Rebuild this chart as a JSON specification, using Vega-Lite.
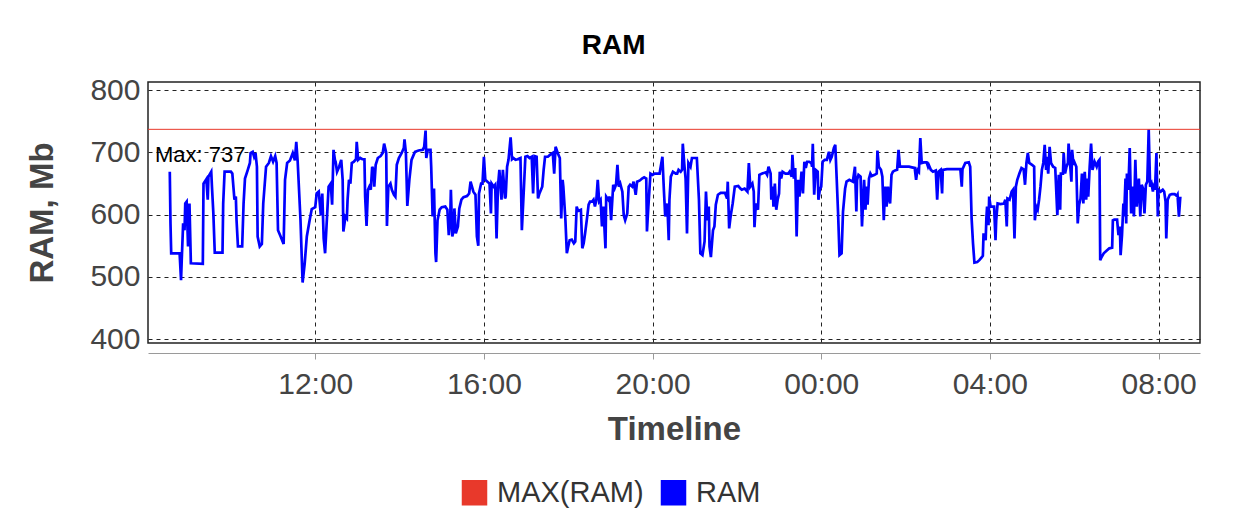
{
"$schema":"https://vega.github.io/schema/vega-lite/v6.json",
"width":1052,"height":261,
"autosize":{"type":"none"},
"padding":{"left":148,"top":82,"right":56,"bottom":185},
"title":{"text":"RAM","fontSize":28,"fontWeight":"bold","font":"Liberation Sans","color":"#000","anchor":"middle","frame":"bounds","offset":15},
"config":{"view":{"stroke":"#222","strokeWidth":1.5},"font":"Liberation Sans"},
"datasets":{"ram":[
{"t":"2024-01-01T08:33","v":669},{"t":"2024-01-01T08:34","v":586},{"t":"2024-01-01T08:35","v":538},{"t":"2024-01-01T08:47","v":538},{"t":"2024-01-01T08:49","v":495},{"t":"2024-01-01T08:50","v":527},{"t":"2024-01-01T08:52","v":586},{"t":"2024-01-01T08:54","v":575},{"t":"2024-01-01T08:55","v":618},{"t":"2024-01-01T08:57","v":621},{"t":"2024-01-01T08:59","v":549},{"t":"2024-01-01T09:01","v":618},{"t":"2024-01-01T09:03","v":522},{"t":"2024-01-01T09:20","v":521},{"t":"2024-01-01T09:21","v":650},{"t":"2024-01-01T09:25","v":657},{"t":"2024-01-01T09:27","v":624},{"t":"2024-01-01T09:28","v":661},{"t":"2024-01-01T09:32","v":669},{"t":"2024-01-01T09:33","v":645},{"t":"2024-01-01T09:35","v":602},{"t":"2024-01-01T09:37","v":539},{"t":"2024-01-01T09:48","v":539},{"t":"2024-01-01T09:49","v":618},{"t":"2024-01-01T09:51","v":669},{"t":"2024-01-01T10:00","v":669},{"t":"2024-01-01T10:02","v":666},{"t":"2024-01-01T10:05","v":624},{"t":"2024-01-01T10:07","v":629},{"t":"2024-01-01T10:08","v":591},{"t":"2024-01-01T10:10","v":549},{"t":"2024-01-01T10:16","v":549},{"t":"2024-01-01T10:18","v":618},{"t":"2024-01-01T10:20","v":658},{"t":"2024-01-01T10:24","v":672},{"t":"2024-01-01T10:27","v":683},{"t":"2024-01-01T10:28","v":699},{"t":"2024-01-01T10:31","v":701},{"t":"2024-01-01T10:33","v":693},{"t":"2024-01-01T10:35","v":699},{"t":"2024-01-01T10:37","v":677},{"t":"2024-01-01T10:38","v":565},{"t":"2024-01-01T10:41","v":549},{"t":"2024-01-01T10:44","v":553},{"t":"2024-01-01T10:46","v":618},{"t":"2024-01-01T10:50","v":677},{"t":"2024-01-01T10:54","v":683},{"t":"2024-01-01T10:57","v":694},{"t":"2024-01-01T11:00","v":685},{"t":"2024-01-01T11:03","v":694},{"t":"2024-01-01T11:05","v":683},{"t":"2024-01-01T11:07","v":575},{"t":"2024-01-01T11:10","v":567},{"t":"2024-01-01T11:15","v":553},{"t":"2024-01-01T11:17","v":656},{"t":"2024-01-01T11:20","v":683},{"t":"2024-01-01T11:24","v":687},{"t":"2024-01-01T11:28","v":699},{"t":"2024-01-01T11:31","v":687},{"t":"2024-01-01T11:33","v":717},{"t":"2024-01-01T11:35","v":685},{"t":"2024-01-01T11:39","v":591},{"t":"2024-01-01T11:42","v":491},{"t":"2024-01-01T11:45","v":522},{"t":"2024-01-01T11:48","v":565},{"t":"2024-01-01T11:52","v":591},{"t":"2024-01-01T11:55","v":609},{"t":"2024-01-01T12:00","v":612},{"t":"2024-01-01T12:02","v":634},{"t":"2024-01-01T12:05","v":637},{"t":"2024-01-01T12:08","v":599},{"t":"2024-01-01T12:10","v":634},{"t":"2024-01-01T12:12","v":562},{"t":"2024-01-01T12:14","v":538},{"t":"2024-01-01T12:17","v":602},{"t":"2024-01-01T12:19","v":645},{"t":"2024-01-01T12:22","v":650},{"t":"2024-01-01T12:24","v":616},{"t":"2024-01-01T12:26","v":704},{"t":"2024-01-01T12:28","v":688},
{"t":"2024-01-01T12:29","v":685},{"t":"2024-01-01T12:31","v":669},{"t":"2024-01-01T12:34","v":677},{"t":"2024-01-01T12:37","v":688},{"t":"2024-01-01T12:39","v":656},{"t":"2024-01-01T12:40","v":573},{"t":"2024-01-01T12:43","v":597},{"t":"2024-01-01T12:45","v":594},{"t":"2024-01-01T12:46","v":624},{"t":"2024-01-01T12:48","v":656},{"t":"2024-01-01T12:50","v":650},{"t":"2024-01-01T12:52","v":683},{"t":"2024-01-01T12:55","v":685},{"t":"2024-01-01T12:58","v":689},{"t":"2024-01-01T12:59","v":717},{"t":"2024-01-01T13:01","v":688},{"t":"2024-01-01T13:04","v":691},{"t":"2024-01-01T13:07","v":689},{"t":"2024-01-01T13:10","v":689},{"t":"2024-01-01T13:11","v":629},{"t":"2024-01-01T13:13","v":582},{"t":"2024-01-01T13:15","v":640},{"t":"2024-01-01T13:17","v":645},{"t":"2024-01-01T13:19","v":640},{"t":"2024-01-01T13:21","v":677},{"t":"2024-01-01T13:23","v":672},{"t":"2024-01-01T13:24","v":645},{"t":"2024-01-01T13:26","v":680},{"t":"2024-01-01T13:29","v":691},{"t":"2024-01-01T13:33","v":694},{"t":"2024-01-01T13:36","v":699},{"t":"2024-01-01T13:38","v":714},{"t":"2024-01-01T13:41","v":699},{"t":"2024-01-01T13:42","v":582},{"t":"2024-01-01T13:44","v":645},{"t":"2024-01-01T13:47","v":650},{"t":"2024-01-01T13:49","v":640},{"t":"2024-01-01T13:52","v":632},{"t":"2024-01-01T13:54","v":629},{"t":"2024-01-01T13:56","v":680},{"t":"2024-01-01T13:59","v":691},{"t":"2024-01-01T14:03","v":699},{"t":"2024-01-01T14:06","v":707},{"t":"2024-01-01T14:07","v":721},{"t":"2024-01-01T14:09","v":699},{"t":"2024-01-01T14:11","v":614},{"t":"2024-01-01T14:14","v":657},{"t":"2024-01-01T14:17","v":688},{"t":"2024-01-01T14:20","v":696},{"t":"2024-01-01T14:22","v":701},{"t":"2024-01-01T14:27","v":703},{"t":"2024-01-01T14:33","v":704},{"t":"2024-01-01T14:35","v":709},{"t":"2024-01-01T14:37","v":735},{"t":"2024-01-01T14:38","v":691},{"t":"2024-01-01T14:40","v":704},{"t":"2024-01-01T14:44","v":704},{"t":"2024-01-01T14:45","v":677},{"t":"2024-01-01T14:47","v":597},{"t":"2024-01-01T14:49","v":642},{"t":"2024-01-01T14:51","v":538},{"t":"2024-01-01T14:52","v":524},{"t":"2024-01-01T14:54","v":591},{"t":"2024-01-01T14:57","v":608},{"t":"2024-01-01T15:00","v":612},{"t":"2024-01-01T15:05","v":613},{"t":"2024-01-01T15:08","v":608},{"t":"2024-01-01T15:10","v":567},{"t":"2024-01-01T15:12","v":591},{"t":"2024-01-01T15:13","v":640},{"t":"2024-01-01T15:15","v":565},{"t":"2024-01-01T15:17","v":575},{"t":"2024-01-01T15:18","v":610},{"t":"2024-01-01T15:20","v":570},{"t":"2024-01-01T15:23","v":581},{"t":"2024-01-01T15:25","v":610},{"t":"2024-01-01T15:28","v":624},{"t":"2024-01-01T15:31","v":628},{"t":"2024-01-01T15:36","v":630},{"t":"2024-01-01T15:39","v":634},{"t":"2024-01-01T15:41","v":653},{"t":"2024-01-01T15:43","v":645},{"t":"2024-01-01T15:45","v":637},{"t":"2024-01-01T15:48","v":632},{"t":"2024-01-01T15:50","v":565},{"t":"2024-01-01T15:52","v":550},{"t":"2024-01-01T15:53","v":634},{"t":"2024-01-01T15:56","v":650},{"t":"2024-01-01T15:58","v":650},{"t":"2024-01-01T16:00","v":693},{"t":"2024-01-01T16:02","v":656},{"t":"2024-01-01T16:05","v":653},{"t":"2024-01-01T16:08","v":650},{"t":"2024-01-01T16:10","v":602},{"t":"2024-01-01T16:11","v":650},{"t":"2024-01-01T16:14","v":645},{"t":"2024-01-01T16:16","v":648},{"t":"2024-01-01T16:18","v":562},{"t":"2024-01-01T16:20","v":645},{"t":"2024-01-01T16:22","v":672},{"t":"2024-01-01T16:25","v":624},{"t":"2024-01-01T16:27","v":672},{"t":"2024-01-01T16:30","v":626},{"t":"2024-01-01T16:31","v":629},{"t":"2024-01-01T16:33","v":677},{"t":"2024-01-01T16:35","v":688},{"t":"2024-01-01T16:38","v":724},{"t":"2024-01-01T16:40","v":689},
{"t":"2024-01-01T16:42","v":691},{"t":"2024-01-01T16:45","v":688},{"t":"2024-01-01T16:48","v":689},{"t":"2024-01-01T16:52","v":691},{"t":"2024-01-01T16:54","v":575},{"t":"2024-01-01T16:57","v":645},{"t":"2024-01-01T16:59","v":693},{"t":"2024-01-01T17:02","v":694},{"t":"2024-01-01T17:05","v":691},{"t":"2024-01-01T17:08","v":693},{"t":"2024-01-01T17:10","v":634},{"t":"2024-01-01T17:12","v":694},{"t":"2024-01-01T17:15","v":693},{"t":"2024-01-01T17:17","v":626},{"t":"2024-01-01T17:19","v":634},{"t":"2024-01-01T17:23","v":645},{"t":"2024-01-01T17:25","v":672},{"t":"2024-01-01T17:27","v":693},{"t":"2024-01-01T17:31","v":693},{"t":"2024-01-01T17:34","v":696},{"t":"2024-01-01T17:38","v":699},{"t":"2024-01-01T17:40","v":666},{"t":"2024-01-01T17:42","v":709},{"t":"2024-01-01T17:45","v":699},{"t":"2024-01-01T17:48","v":691},{"t":"2024-01-01T17:50","v":594},{"t":"2024-01-01T17:52","v":656},{"t":"2024-01-01T17:53","v":645},{"t":"2024-01-01T17:56","v":591},{"t":"2024-01-01T17:58","v":538},{"t":"2024-01-01T18:00","v":549},{"t":"2024-01-01T18:02","v":559},{"t":"2024-01-01T18:05","v":560},{"t":"2024-01-01T18:08","v":554},{"t":"2024-01-01T18:10","v":557},{"t":"2024-01-01T18:12","v":613},{"t":"2024-01-01T18:14","v":606},{"t":"2024-01-01T18:18","v":608},{"t":"2024-01-01T18:20","v":546},{"t":"2024-01-01T18:22","v":554},{"t":"2024-01-01T18:24","v":570},{"t":"2024-01-01T18:27","v":597},{"t":"2024-01-01T18:29","v":616},{"t":"2024-01-01T18:31","v":621},{"t":"2024-01-01T18:34","v":621},{"t":"2024-01-01T18:36","v":624},{"t":"2024-01-01T18:38","v":613},{"t":"2024-01-01T18:40","v":624},{"t":"2024-01-01T18:42","v":656},{"t":"2024-01-01T18:44","v":621},{"t":"2024-01-01T18:46","v":624},{"t":"2024-01-01T18:48","v":581},{"t":"2024-01-01T18:50","v":613},{"t":"2024-01-01T18:53","v":546},{"t":"2024-01-01T18:54","v":629},{"t":"2024-01-01T18:57","v":624},{"t":"2024-01-01T18:59","v":629},{"t":"2024-01-01T19:01","v":591},{"t":"2024-01-01T19:04","v":648},{"t":"2024-01-01T19:06","v":642},{"t":"2024-01-01T19:08","v":648},{"t":"2024-01-01T19:10","v":680},{"t":"2024-01-01T19:12","v":645},{"t":"2024-01-01T19:14","v":650},{"t":"2024-01-01T19:17","v":637},{"t":"2024-01-01T19:19","v":599},{"t":"2024-01-01T19:21","v":591},{"t":"2024-01-01T19:24","v":602},{"t":"2024-01-01T19:26","v":645},{"t":"2024-01-01T19:28","v":648},{"t":"2024-01-01T19:31","v":645},{"t":"2024-01-01T19:33","v":653},{"t":"2024-01-01T19:36","v":632},{"t":"2024-01-01T19:38","v":653},{"t":"2024-01-01T19:42","v":655},{"t":"2024-01-01T19:45","v":658},{"t":"2024-01-01T19:48","v":660},{"t":"2024-01-01T19:51","v":658},{"t":"2024-01-01T19:52","v":573},{"t":"2024-01-01T19:54","v":613},{"t":"2024-01-01T19:57","v":666},{"t":"2024-01-01T20:00","v":664},{"t":"2024-01-01T20:03","v":666},{"t":"2024-01-01T20:06","v":666},{"t":"2024-01-01T20:10","v":666},{"t":"2024-01-01T20:14","v":693},{"t":"2024-01-01T20:16","v":642},{"t":"2024-01-01T20:18","v":597},{"t":"2024-01-01T20:21","v":618},{"t":"2024-01-01T20:23","v":559},{"t":"2024-01-01T20:24","v":624},{"t":"2024-01-01T20:26","v":661},{"t":"2024-01-01T20:29","v":669},{"t":"2024-01-01T20:33","v":666},{"t":"2024-01-01T20:35","v":666},{"t":"2024-01-01T20:37","v":672},{"t":"2024-01-01T20:40","v":669},{"t":"2024-01-01T20:42","v":672},{"t":"2024-01-01T20:43","v":714},{"t":"2024-01-01T20:45","v":683},{"t":"2024-01-01T20:47","v":658},{"t":"2024-01-01T20:49","v":570},
{"t":"2024-01-01T20:51","v":683},{"t":"2024-01-01T20:54","v":677},{"t":"2024-01-01T20:56","v":691},{"t":"2024-01-01T21:03","v":691},{"t":"2024-01-01T21:06","v":624},{"t":"2024-01-01T21:08","v":538},{"t":"2024-01-01T21:11","v":535},{"t":"2024-01-01T21:14","v":557},{"t":"2024-01-01T21:16","v":637},{"t":"2024-01-01T21:18","v":591},{"t":"2024-01-01T21:20","v":613},{"t":"2024-01-01T21:21","v":549},{"t":"2024-01-01T21:23","v":532},{"t":"2024-01-01T21:26","v":575},{"t":"2024-01-01T21:28","v":581},{"t":"2024-01-01T21:30","v":616},{"t":"2024-01-01T21:33","v":632},{"t":"2024-01-01T21:37","v":635},{"t":"2024-01-01T21:43","v":635},{"t":"2024-01-01T21:46","v":626},{"t":"2024-01-01T21:47","v":653},{"t":"2024-01-01T21:49","v":578},{"t":"2024-01-01T21:51","v":597},{"t":"2024-01-01T21:54","v":618},{"t":"2024-01-01T21:57","v":645},{"t":"2024-01-01T22:02","v":646},{"t":"2024-01-01T22:05","v":642},{"t":"2024-01-01T22:07","v":640},{"t":"2024-01-01T22:11","v":642},{"t":"2024-01-01T22:15","v":637},{"t":"2024-01-01T22:17","v":683},{"t":"2024-01-01T22:19","v":645},{"t":"2024-01-01T22:22","v":650},{"t":"2024-01-01T22:24","v":637},{"t":"2024-01-01T22:25","v":580},{"t":"2024-01-01T22:27","v":618},{"t":"2024-01-01T22:30","v":608},{"t":"2024-01-01T22:32","v":664},{"t":"2024-01-01T22:36","v":666},{"t":"2024-01-01T22:41","v":668},{"t":"2024-01-01T22:43","v":664},{"t":"2024-01-01T22:45","v":677},{"t":"2024-01-01T22:48","v":666},{"t":"2024-01-01T22:49","v":624},{"t":"2024-01-01T22:51","v":645},{"t":"2024-01-01T22:52","v":613},{"t":"2024-01-01T22:54","v":650},{"t":"2024-01-01T22:56","v":608},{"t":"2024-01-01T22:58","v":624},{"t":"2024-01-01T23:00","v":634},{"t":"2024-01-01T23:01","v":669},{"t":"2024-01-01T23:03","v":658},{"t":"2024-01-01T23:05","v":669},{"t":"2024-01-01T23:09","v":666},{"t":"2024-01-01T23:13","v":666},{"t":"2024-01-01T23:15","v":669},{"t":"2024-01-01T23:18","v":661},{"t":"2024-01-01T23:19","v":696},{"t":"2024-01-01T23:21","v":658},{"t":"2024-01-01T23:23","v":675},{"t":"2024-01-01T23:25","v":565},{"t":"2024-01-01T23:27","v":656},{"t":"2024-01-01T23:29","v":629},{"t":"2024-01-01T23:32","v":669},{"t":"2024-01-01T23:34","v":634},{"t":"2024-01-01T23:36","v":685},{"t":"2024-01-01T23:38","v":675},{"t":"2024-01-01T23:40","v":685},{"t":"2024-01-01T23:43","v":685},{"t":"2024-01-01T23:46","v":683},{"t":"2024-01-01T23:47","v":677},{"t":"2024-01-01T23:48","v":714},{"t":"2024-01-01T23:50","v":632},{"t":"2024-01-01T23:52","v":672},{"t":"2024-01-01T23:55","v":669},{"t":"2024-01-01T23:56","v":624},{"t":"2024-01-01T23:58","v":640},{"t":"2024-01-02T00:00","v":645},{"t":"2024-01-02T00:02","v":685},{"t":"2024-01-02T00:05","v":688},{"t":"2024-01-02T00:08","v":688},{"t":"2024-01-02T00:11","v":701},{"t":"2024-01-02T00:13","v":688},{"t":"2024-01-02T00:15","v":693},{"t":"2024-01-02T00:18","v":707},{"t":"2024-01-02T00:20","v":712},{"t":"2024-01-02T00:22","v":658},{"t":"2024-01-02T00:24","v":602},{"t":"2024-01-02T00:26","v":535},{"t":"2024-01-02T00:29","v":538},{"t":"2024-01-02T00:31","v":605},{"t":"2024-01-02T00:34","v":642},{"t":"2024-01-02T00:36","v":653},{"t":"2024-01-02T00:40","v":656},{"t":"2024-01-02T00:45","v":653},{"t":"2024-01-02T00:48","v":677},{"t":"2024-01-02T00:50","v":605},{"t":"2024-01-02T00:51","v":656},{"t":"2024-01-02T00:53","v":664},{"t":"2024-01-02T00:56","v":661},{"t":"2024-01-02T00:58","v":581},
{"t":"2024-01-02T01:01","v":656},{"t":"2024-01-02T01:03","v":608},{"t":"2024-01-02T01:04","v":645},{"t":"2024-01-02T01:06","v":616},{"t":"2024-01-02T01:08","v":658},{"t":"2024-01-02T01:10","v":666},{"t":"2024-01-02T01:12","v":662},{"t":"2024-01-02T01:16","v":664},{"t":"2024-01-02T01:19","v":666},{"t":"2024-01-02T01:20","v":703},{"t":"2024-01-02T01:22","v":677},{"t":"2024-01-02T01:25","v":672},{"t":"2024-01-02T01:27","v":661},{"t":"2024-01-02T01:29","v":591},{"t":"2024-01-02T01:31","v":645},{"t":"2024-01-02T01:33","v":613},{"t":"2024-01-02T01:35","v":645},{"t":"2024-01-02T01:37","v":624},{"t":"2024-01-02T01:38","v":618},{"t":"2024-01-02T01:40","v":664},{"t":"2024-01-02T01:42","v":669},{"t":"2024-01-02T01:45","v":671},{"t":"2024-01-02T01:48","v":672},{"t":"2024-01-02T01:50","v":704},{"t":"2024-01-02T01:52","v":677},{"t":"2024-01-02T01:55","v":677},{"t":"2024-01-02T02:00","v":677},{"t":"2024-01-02T02:05","v":677},{"t":"2024-01-02T02:09","v":676},{"t":"2024-01-02T02:13","v":675},{"t":"2024-01-02T02:15","v":656},{"t":"2024-01-02T02:17","v":672},{"t":"2024-01-02T02:19","v":669},{"t":"2024-01-02T02:21","v":723},{"t":"2024-01-02T02:23","v":683},{"t":"2024-01-02T02:26","v":684},{"t":"2024-01-02T02:30","v":684},{"t":"2024-01-02T02:32","v":677},{"t":"2024-01-02T02:33","v":680},{"t":"2024-01-02T02:36","v":672},{"t":"2024-01-02T02:39","v":669},{"t":"2024-01-02T02:43","v":671},{"t":"2024-01-02T02:45","v":624},{"t":"2024-01-02T02:47","v":669},{"t":"2024-01-02T02:50","v":672},{"t":"2024-01-02T02:52","v":634},{"t":"2024-01-02T02:53","v":672},{"t":"2024-01-02T02:59","v":673},{"t":"2024-01-02T03:06","v":673},{"t":"2024-01-02T03:13","v":673},{"t":"2024-01-02T03:18","v":673},{"t":"2024-01-02T03:20","v":645},{"t":"2024-01-02T03:21","v":673},{"t":"2024-01-02T03:25","v":683},{"t":"2024-01-02T03:30","v":684},{"t":"2024-01-02T03:32","v":677},{"t":"2024-01-02T03:34","v":594},{"t":"2024-01-02T03:36","v":554},{"t":"2024-01-02T03:38","v":523},{"t":"2024-01-02T03:42","v":524},{"t":"2024-01-02T03:45","v":527},{"t":"2024-01-02T03:48","v":531},{"t":"2024-01-02T03:50","v":534},{"t":"2024-01-02T03:51","v":570},{"t":"2024-01-02T03:54","v":559},{"t":"2024-01-02T03:55","v":594},{"t":"2024-01-02T03:56","v":613},{"t":"2024-01-02T03:58","v":583},{"t":"2024-01-02T03:59","v":629},{"t":"2024-01-02T04:01","v":613},{"t":"2024-01-02T04:06","v":613},{"t":"2024-01-02T04:08","v":559},{"t":"2024-01-02T04:09","v":591},{"t":"2024-01-02T04:11","v":618},{"t":"2024-01-02T04:15","v":617},{"t":"2024-01-02T04:20","v":618},{"t":"2024-01-02T04:22","v":624},{"t":"2024-01-02T04:24","v":581},{"t":"2024-01-02T04:25","v":626},{"t":"2024-01-02T04:28","v":624},{"t":"2024-01-02T04:31","v":637},{"t":"2024-01-02T04:33","v":640},{"t":"2024-01-02T04:35","v":562},{"t":"2024-01-02T04:37","v":645},{"t":"2024-01-02T04:39","v":656},{"t":"2024-01-02T04:42","v":666},{"t":"2024-01-02T04:45","v":675},{"t":"2024-01-02T04:48","v":673},{"t":"2024-01-02T04:50","v":648},{"t":"2024-01-02T04:52","v":683},{"t":"2024-01-02T04:54","v":699},{"t":"2024-01-02T04:56","v":683},
{"t":"2024-01-02T05:00","v":680},{"t":"2024-01-02T05:03","v":677},{"t":"2024-01-02T05:04","v":591},{"t":"2024-01-02T05:06","v":613},{"t":"2024-01-02T05:08","v":608},{"t":"2024-01-02T05:10","v":624},{"t":"2024-01-02T05:12","v":645},{"t":"2024-01-02T05:14","v":672},{"t":"2024-01-02T05:16","v":683},{"t":"2024-01-02T05:18","v":712},{"t":"2024-01-02T05:20","v":672},{"t":"2024-01-02T05:21","v":693},{"t":"2024-01-02T05:23","v":666},{"t":"2024-01-02T05:25","v":709},{"t":"2024-01-02T05:27","v":683},{"t":"2024-01-02T05:30","v":677},{"t":"2024-01-02T05:33","v":675},{"t":"2024-01-02T05:36","v":599},{"t":"2024-01-02T05:38","v":664},{"t":"2024-01-02T05:40","v":608},{"t":"2024-01-02T05:41","v":666},{"t":"2024-01-02T05:44","v":666},{"t":"2024-01-02T05:45","v":699},{"t":"2024-01-02T05:47","v":666},{"t":"2024-01-02T05:49","v":677},{"t":"2024-01-02T05:51","v":683},{"t":"2024-01-02T05:52","v":714},{"t":"2024-01-02T05:54","v":683},{"t":"2024-01-02T05:56","v":653},{"t":"2024-01-02T05:57","v":704},{"t":"2024-01-02T05:59","v":680},{"t":"2024-01-02T06:00","v":685},{"t":"2024-01-02T06:03","v":677},{"t":"2024-01-02T06:05","v":586},{"t":"2024-01-02T06:07","v":616},{"t":"2024-01-02T06:09","v":626},{"t":"2024-01-02T06:11","v":666},{"t":"2024-01-02T06:13","v":618},{"t":"2024-01-02T06:15","v":669},{"t":"2024-01-02T06:17","v":624},{"t":"2024-01-02T06:19","v":658},{"t":"2024-01-02T06:20","v":629},{"t":"2024-01-02T06:22","v":677},{"t":"2024-01-02T06:24","v":714},{"t":"2024-01-02T06:26","v":672},{"t":"2024-01-02T06:29","v":685},{"t":"2024-01-02T06:32","v":677},{"t":"2024-01-02T06:34","v":685},{"t":"2024-01-02T06:36","v":688},{"t":"2024-01-02T06:37","v":527},{"t":"2024-01-02T06:39","v":532},{"t":"2024-01-02T06:42","v":538},{"t":"2024-01-02T06:46","v":542},{"t":"2024-01-02T06:50","v":546},{"t":"2024-01-02T06:54","v":547},{"t":"2024-01-02T06:55","v":591},{"t":"2024-01-02T06:57","v":592},{"t":"2024-01-02T07:01","v":592},{"t":"2024-01-02T07:03","v":567},{"t":"2024-01-02T07:05","v":581},{"t":"2024-01-02T07:06","v":535},{"t":"2024-01-02T07:08","v":567},{"t":"2024-01-02T07:10","v":618},{"t":"2024-01-02T07:11","v":597},{"t":"2024-01-02T07:13","v":658},{"t":"2024-01-02T07:14","v":586},{"t":"2024-01-02T07:15","v":666},{"t":"2024-01-02T07:17","v":640},{"t":"2024-01-02T07:19","v":707},{"t":"2024-01-02T07:21","v":602},{"t":"2024-01-02T07:23","v":645},{"t":"2024-01-02T07:25","v":597},{"t":"2024-01-02T07:27","v":688},{"t":"2024-01-02T07:29","v":613},{"t":"2024-01-02T07:31","v":645},{"t":"2024-01-02T07:32","v":658},{"t":"2024-01-02T07:34","v":597},{"t":"2024-01-02T07:36","v":648},{"t":"2024-01-02T07:38","v":642},{"t":"2024-01-02T07:40","v":602},{"t":"2024-01-02T07:42","v":648},{"t":"2024-01-02T07:44","v":653},{"t":"2024-01-02T07:46","v":737},{"t":"2024-01-02T07:48","v":645},{"t":"2024-01-02T07:50","v":650},{"t":"2024-01-02T07:52","v":637},{"t":"2024-01-02T07:53","v":645},{"t":"2024-01-02T07:55","v":640},{"t":"2024-01-02T07:57","v":699},{"t":"2024-01-02T07:59","v":597},{"t":"2024-01-02T08:00","v":640},{"t":"2024-01-02T08:03","v":637},{"t":"2024-01-02T08:06","v":640},{"t":"2024-01-02T08:08","v":637},{"t":"2024-01-02T08:10","v":621},{"t":"2024-01-02T08:11","v":562},{"t":"2024-01-02T08:13","v":624},{"t":"2024-01-02T08:16","v":632},{"t":"2024-01-02T08:19","v":633},{"t":"2024-01-02T08:23","v":633},{"t":"2024-01-02T08:26","v":630},{"t":"2024-01-02T08:27","v":632},{"t":"2024-01-02T08:29","v":597},{"t":"2024-01-02T08:31","v":629}
]},
"layer":[
{"data":{"name":"ram"},
 "mark":{"type":"line","strokeWidth":2.7,"clip":true},
 "encoding":{
  "x":{"field":"t","type":"temporal",
   "scale":{"domain":[{"year":2024,"month":1,"date":1,"hours":8,"minutes":2},{"year":2024,"month":1,"date":2,"hours":8,"minutes":59}]},
   "axis":{"title":"Timeline","format":"%H:%M","values":[{"year":2024,"month":1,"date":1,"hours":12},{"year":2024,"month":1,"date":1,"hours":16},{"year":2024,"month":1,"date":1,"hours":20},{"year":2024,"month":1,"date":2,"hours":0},{"year":2024,"month":1,"date":2,"hours":4},{"year":2024,"month":1,"date":2,"hours":8}],"labelFontSize":30,"labelColor":"#444","titleFontSize":33,"titleColor":"#444","titleFontWeight":"bold","offset":10,"domainColor":"#9a9a9a","tickColor":"#9a9a9a","tickSize":6,"labelPadding":10,"titlePadding":14,"grid":true,"gridColor":"#222","gridDash":[4,4],"labelFlush":false}},
  "y":{"field":"v","type":"quantitative",
   "scale":{"domain":[394,813],"nice":false,"zero":false},
   "axis":{"title":"RAM, Mb","values":[400,500,600,700,800],"labelFontSize":30,"labelColor":"#444","titleFontSize":33,"titleFontWeight":"bold","titleColor":"#444","domain":false,"ticks":false,"labelPadding":8,"titlePadding":30,"grid":true,"gridColor":"#222","gridDash":[4,4]}},
  "color":{"datum":"RAM",
   "scale":{"domain":["MAX(RAM)","RAM"],"range":["#e8392b","#0000ff"]},
   "legend":{"title":null,"orient":"none","legendX":312,"legendY":396,"direction":"horizontal","symbolType":"square","symbolSize":576,"labelFontSize":29,"labelColor":"#333","labelOffset":8,"columnPadding":14,
     "encode":{"symbols":{"update":{"fill":{"scale":"color","field":"value"}}}}}}
 }},
{"data":{"values":[{"v":737}]},
 "mark":{"type":"rule","strokeWidth":1},
 "encoding":{"y":{"field":"v","type":"quantitative"},"color":{"datum":"MAX(RAM)"}}},
{"data":{"values":[{"t":"2024-01-01T08:12","v":737,"label":"Max: 737"}]},
 "mark":{"type":"text","align":"left","baseline":"top","dy":16,"fontSize":22,"color":"#000"},
 "encoding":{"x":{"field":"t","type":"temporal"},"y":{"field":"v","type":"quantitative"},"text":{"field":"label"}}}
]
}
